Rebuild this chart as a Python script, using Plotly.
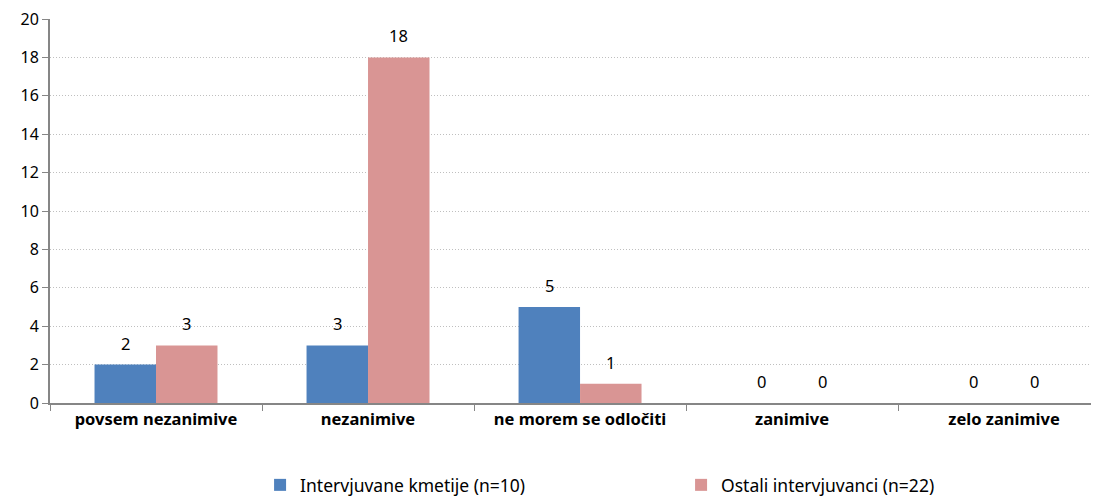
import plotly.graph_objects as go

categories = ["povsem nezanimive", "nezanimive", "ne morem se odločiti", "zanimive", "zelo zanimive"]
kmetije = [2, 3, 5, 0, 0]
ostali = [3, 18, 1, 0, 0]
series_names = ["Intervjuvane kmetije (n=10)", "Ostali intervjuvanci (n=22)"]
colors = ["#4F81BD", "#D99594"]
y_ticks = list(range(0, 21, 2))

FONT = "Noto Sans"
W, H = 1083, 488
ML, MR, MT, MB = 42, 0, 11, 93
X_RANGE = [-0.5, 4.41]
BARGAP = 0.42

fig = go.Figure()
for name, vals, col in zip(series_names, [kmetije, ostali], colors):
    fig.add_trace(go.Bar(
        x=categories, y=vals, name=name, marker=dict(color=col, line=dict(width=0)),
        cliponaxis=False,
    ))

# value labels placed above each bar
px_per_cat = (W - ML - MR) / (X_RANGE[1] - X_RANGE[0])
half_bar = px_per_cat * (1 - BARGAP) / 4
for si, vals in enumerate([kmetije, ostali]):
    for cat, v in zip(categories, vals):
        fig.add_annotation(
            x=cat, y=v, xref="x", yref="y", text=str(v), showarrow=False,
            xshift=(-half_bar if si == 0 else half_bar), yshift=8, yanchor="bottom",
            font=dict(family=FONT, size=16.5, color="#000000"),
        )

fig.update_layout(
    width=W, height=H,
    margin=dict(l=ML, r=MR, t=MT, b=MB, autoexpand=False),
    paper_bgcolor="white", plot_bgcolor="white",
    barmode="group", bargap=BARGAP, bargroupgap=0,
    font=dict(family=FONT, size=15, color="#000000"),
    showlegend=True,
    legend=dict(orientation="h", x=0.2018, xanchor="left", y=-0.2135, yanchor="middle",
                entrywidth=376, entrywidthmode="pixels",
                font=dict(family=FONT, size=17.5), itemwidth=30, tracegroupgap=0),
)
fig.update_xaxes(
    type="category", range=X_RANGE, automargin=False,
    showline=True, linecolor="#868686", linewidth=2,
    ticks="outside", tickson="boundaries", ticklen=6, tickcolor="#868686",
    tickfont=dict(family=FONT, size=16.5, color="#000000", weight="bold"),
    showgrid=False,
)
fig.update_yaxes(
    range=[0, 20], tickvals=y_ticks, automargin=False, ticklabeloverflow="allow",
    showline=True, linecolor="#868686", linewidth=2,
    ticks="outside", ticklen=6, tickcolor="#868686",
    showgrid=True, gridcolor="#BFBFBF", griddash="1px,2px", gridwidth=1,
    zeroline=False, tickfont=dict(family=FONT, size=16, color="#000000"),
)

fig.write_html("out.html")
